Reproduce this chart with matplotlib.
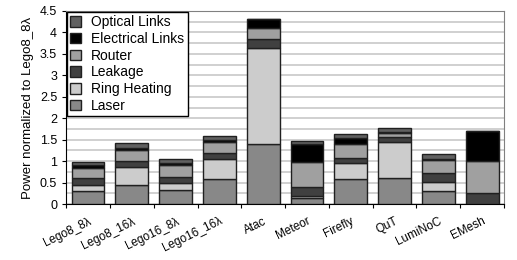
import matplotlib.pyplot as plt
import matplotlib as mpl
import numpy as np

mpl.rcParams['font.family'] = ['Liberation Sans', 'DejaVu Sans']
mpl.rcParams['axes.unicode_minus'] = False

# ---------- data ----------
designs = ['Lego8_8λ', 'Lego8_16λ', 'Lego16_8λ', 'Lego16_16λ', 'Atac',
           'Meteor', 'Firefly', 'QuT', 'LumiNoC', 'EMesh']

laser        = [0.31, 0.44, 0.33, 0.58, 1.39, 0.14, 0.58, 0.60, 0.31, 0.00]
ring_heating = [0.13, 0.43, 0.16, 0.47, 2.24, 0.05, 0.37, 0.85, 0.21, 0.00]
leakage      = [0.16, 0.13, 0.15, 0.14, 0.21, 0.20, 0.12, 0.11, 0.20, 0.27]
router       = [0.25, 0.27, 0.27, 0.26, 0.26, 0.58, 0.33, 0.09, 0.30, 0.74]
elec_links   = [0.05, 0.04, 0.04, 0.05, 0.21, 0.43, 0.15, 0.02, 0.02, 0.69]
optical      = [0.08, 0.11, 0.09, 0.09, 0.00, 0.07, 0.08, 0.10, 0.13, 0.00]

# stack order bottom -> top
series = [
    ('Laser', laser, '#888888'),
    ('Ring Heating', ring_heating, '#cccccc'),
    ('Leakage', leakage, '#404040'),
    ('Router', router, '#a0a0a0'),
    ('Electrical Links', elec_links, '#000000'),
    ('Optical Links', optical, '#606060'),
]

fig = plt.figure(figsize=(5.17, 2.6), dpi=100)
ax = fig.add_axes([0.128, 0.215, 0.847, 0.743])

x = np.arange(len(designs))
bottom = np.zeros(len(designs))
handles = []
for name, vals, col in series:
    b = ax.bar(x, vals, 0.75, bottom=bottom, color=col, edgecolor='#202020',
               linewidth=1.0, label=name, zorder=3)
    handles.append(b)
    bottom += np.array(vals)

ax.set_xlim(-0.5, len(designs) - 0.5)
ax.set_ylim(0, 4.5)
ax.set_yticks(np.arange(0, 4.51, 0.5))
ax.set_yticklabels(['0', '0.5', '1', '1.5', '2', '2.5', '3', '3.5', '4', '4.5'])
ax.set_yticks(np.arange(0, 4.51, 0.25), minor=True)
ax.tick_params(axis='y', which='minor', length=0)
ax.grid(axis='y', which='both', color='#c8c8c8', linewidth=1.2, zorder=0)
ax.tick_params(axis='y', labelsize=9, length=3, direction='out')

# category ticks at boundaries, labels at centres
ax.set_xticks(np.arange(-0.5, len(designs), 1.0))
ax.set_xticklabels([])
ax.set_xticks(x, minor=True)
ax.set_xticklabels(designs, minor=True, rotation=26, ha='right',
                   rotation_mode='anchor', fontsize=8.5)
ax.tick_params(axis='x', which='minor', length=0, pad=8)
ax.tick_params(axis='x', which='major', length=3, direction='out')

for s in ['top', 'right']:
    ax.spines[s].set_color('#808080')
for s in ['left', 'bottom']:
    ax.spines[s].set_color('#000000')

ax.set_ylabel('Power normalized to Lego8_8λ', fontsize=9.5)

leg = ax.legend(handles[::-1], [s[0] for s in series][::-1], loc='upper left',
                fontsize=10, frameon=True, fancybox=False, framealpha=1,
                edgecolor='black', borderaxespad=0.05, labelspacing=0.2,
                handlelength=0.8, handleheight=0.8, handletextpad=0.7,
                borderpad=0.25)
leg.get_frame().set_linewidth(1.0)

plt.savefig('out.png', dpi=100)
plt.close()
